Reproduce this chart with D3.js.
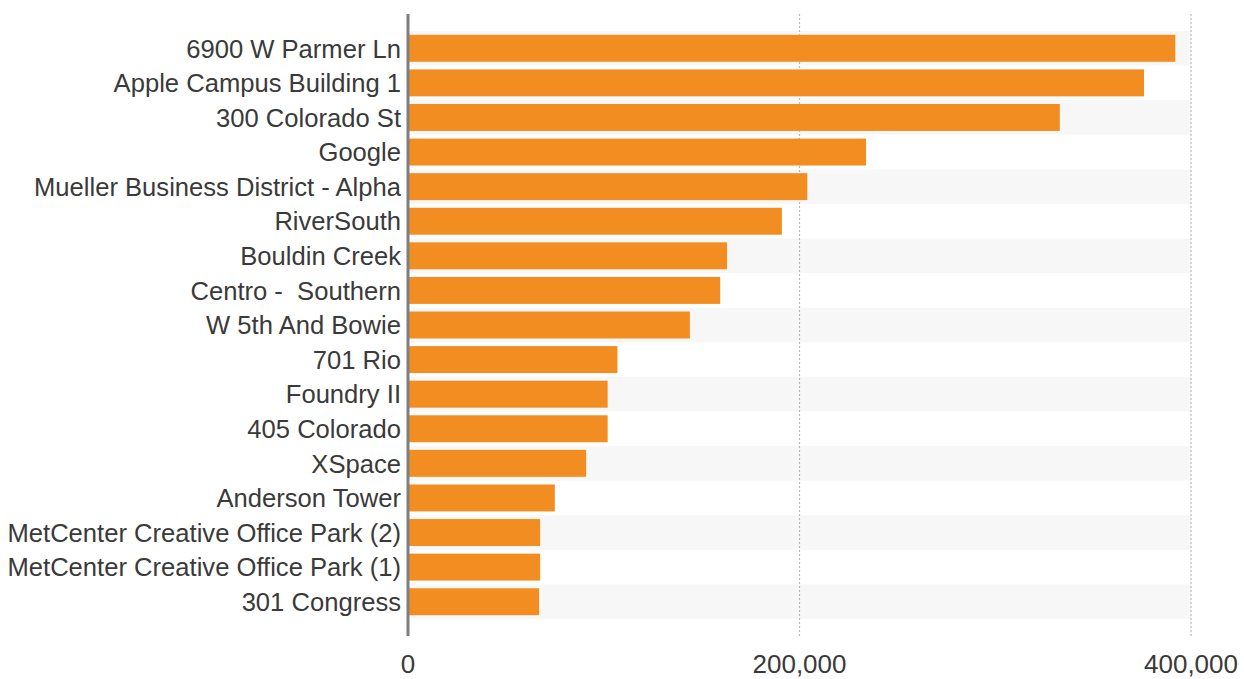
<!DOCTYPE html>
<html>
<head>
<meta charset="utf-8">
<script src="https://cdn.jsdelivr.net/npm/d3@7"></script>
<style>
  body { margin: 0; background: #fff; }
  #chart { width: 1244px; height: 679px; }
  text { font-family: Arial, "Liberation Sans", sans-serif; fill: #3a3a3a; white-space: pre; }
</style>
</head>
<body>
<div id="chart"></div>
<script>
let buildings = [
    "6900 W Parmer Ln",
    "Apple Campus Building 1",
    "300 Colorado St",
    "Google",
    "Mueller Business District - Alpha",
    "RiverSouth",
    "Bouldin Creek",
    "Centro -  Southern",
    "W 5th And Bowie",
    "701 Rio",
    "Foundry II",
    "405 Colorado",
    "XSpace",
    "Anderson Tower",
    "MetCenter Creative Office Park (2)",
    "MetCenter Creative Office Park (1)",
    "301 Congress"
];

let sqft = [392000, 376000, 333000, 234000, 204000, 191000, 163000, 159500, 144000,
    107000, 102000, 102000, 91000, 75000, 67500, 67500, 67000];

let tickValues = [0, 200000, 400000];

let data = buildings.map((b, i) => ({ name: b, value: sqft[i] }));

let svg = d3.select('#chart').append('svg')
    .attr('width', 1244)
    .attr('height', 679);

const x = d3.scaleLinear()
    .domain([0, 400000])
    .range([408, 1191]);

// full row bands (for the striped background)
const rows = d3.scaleBand()
    .domain(buildings)
    .range([31, 619])
    .padding(0);

// the bars themselves
const y = d3.scaleBand()
    .domain(buildings)
    .range([31, 619])
    .paddingInner(0.22)
    .paddingOuter(0.11);

svg.append('g')
    .selectAll('rect')
    .data(data.filter((d, i) => i % 2 === 0))
    .join('rect')
    .attr('x', x(0))
    .attr('y', d => rows(d.name))
    .attr('width', x(400000) - x(0))
    .attr('height', rows.bandwidth())
    .attr('fill', '#f7f7f7');

// dotted gridlines
svg.append('g')
    .selectAll('line')
    .data(tickValues.filter(t => t > 0))
    .join('line')
    .attr('x1', d => x(d))
    .attr('x2', d => x(d))
    .attr('y1', 14)
    .attr('y2', 636)
    .attr('stroke', '#b8b8b8')
    .attr('stroke-width', 1.2)
    .attr('stroke-dasharray', '2,2');

svg.append('g')
    .selectAll('rect')
    .data(data)
    .join('rect')
    .attr('x', x(0))
    .attr('y', d => y(d.name))
    .attr('width', d => x(d.value) - x(0))
    .attr('height', y.bandwidth())
    .attr('fill', '#f28e21');

// category labels
svg.append('g')
    .selectAll('text')
    .data(data)
    .join('text')
    .attr('x', 401)
    .attr('y', d => rows(d.name) + rows.bandwidth() / 2)
    .attr('dy', '0.36em')
    .attr('text-anchor', 'end')
    .style('font-size', '25.6px')
    .text(d => d.name);

// y axis line
svg.append('line')
    .attr('x1', x(0))
    .attr('x2', x(0))
    .attr('y1', 14)
    .attr('y2', 636)
    .attr('stroke', '#7f7f7f')
    .attr('stroke-width', 3);

// x tick labels
svg.append('g')
    .selectAll('text')
    .data(tickValues)
    .join('text')
    .attr('x', d => x(d))
    .attr('y', 673)
    .attr('text-anchor', 'middle')
    .style('font-size', '26px')
    .text(d => d3.format(',')(d));
</script>
</body>
</html>
